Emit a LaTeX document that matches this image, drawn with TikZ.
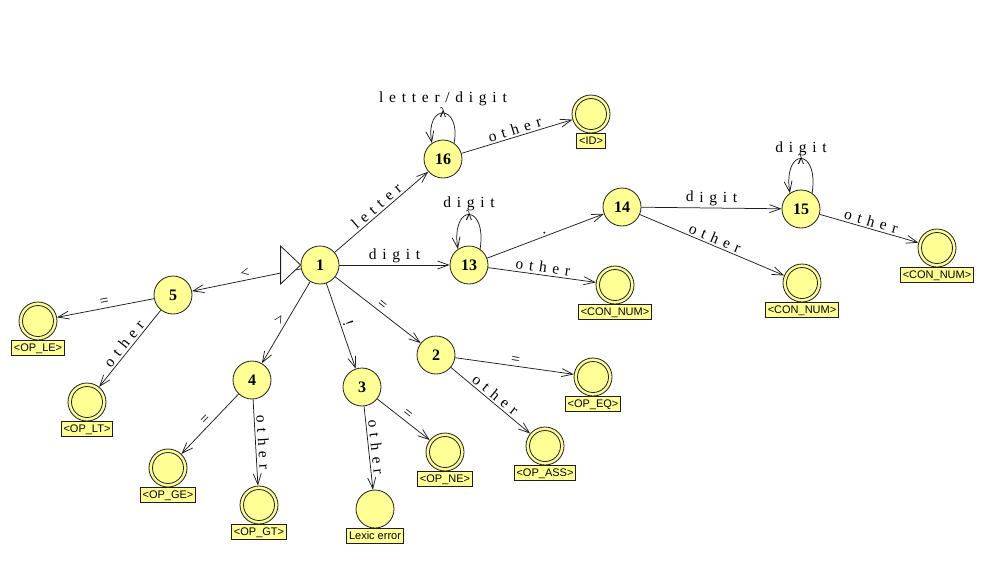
\documentclass[tikz,border=0pt]{standalone}
\usepackage{fontspec}
\setmainfont{Liberation Serif}
\newfontfamily\boxfont{Liberation Sans}
\newfontfamily\labfont[LetterSpace=37]{Liberation Serif}
\usetikzlibrary{arrows.meta}
\definecolor{fy}{RGB}{255,255,150}
\definecolor{ln}{RGB}{30,30,30}
\begin{document}
\begin{tikzpicture}[x=1pt,y=-1pt,
  state/.style={circle,draw=ln,line width=0.8pt,fill=fy,minimum size=38pt,inner sep=0pt,
    font=\fontsize{16}{16}\selectfont\bfseries},
  final/.style={state,path picture={\draw[ln,line width=0.8pt] (path picture bounding box.center) circle (15.5pt);}},
  tag/.style={draw=ln,line width=0.6pt,fill=fy,anchor=north,font=\boxfont\fontsize{11}{11}\selectfont,
    inner xsep=2.3pt,inner ysep=2pt,text height=8.5pt,text depth=2.5pt},
  trans/.style={draw=ln,line width=0.75pt,-{Straight Barb[length=11pt,width=8pt]}},
  lab/.style={auto,sloped,inner sep=2pt,font=\labfont\fontsize{15.5}{15.5}\selectfont},
  looplab/.style={anchor=base,inner sep=0pt,font=\labfont\fontsize{15.5}{15.5}\selectfont},
  lam/.style={inner sep=0pt,font=\fontsize{14}{14}\selectfont}
]
\useasboundingbox (0,0) rectangle (991,579);

% states
\node[state] (n1) at (320,265) {1};
\node[state] (n16) at (443,159) {16};
\node[state] (n13) at (469,265) {13};
\node[state] (n14) at (622,207) {14};
\node[state] (n15) at (801,209) {15};
\node[state] (n5) at (173,295) {5};
\node[state] (n4) at (252,380) {4};
\node[state] (n3) at (362,387) {3};
\node[state] (n2) at (436,355) {2};
\node[state] (err) at (375,509) {};

% final states
\node[final] (fID) at (591,114) {};
\node[final] (fC13) at (615,285) {};
\node[final] (fC14) at (802,283) {};
\node[final] (fC15) at (937,248) {};
\node[final] (fLE) at (38,321) {};
\node[final] (fLT) at (87,402) {};
\node[final] (fGE) at (168,468) {};
\node[final] (fGT) at (259,505) {};
\node[final] (fNE) at (445,452) {};
\node[final] (fEQ) at (593,377) {};
\node[final] (fASS) at (545,446) {};

% tags
\node[tag] (tID) at (fID.south) {<ID>};
\node[tag] (tC13) at (fC13.south) {<CON\_NUM>};
\node[tag] (tC14) at (fC14.south) {<CON\_NUM>};
\node[tag] (tC15) at (fC15.south) {<CON\_NUM>};
\node[tag] (tLE) at (fLE.south) {<OP\_LE>};
\node[tag] (tLT) at (fLT.south) {<OP\_LT>};
\node[tag] (tGE) at (fGE.south) {<OP\_GE>};
\node[tag] (tGT) at (fGT.south) {<OP\_GT>};
\node[tag] (tNE) at (fNE.south) {<OP\_NE>};
\node[tag] (tEQ) at (fEQ.south) {<OP\_EQ>};
\node[tag] (tASS) at (fASS.south) {<OP\_ASS>};
\node[tag] (terr) at (err.south) {Lexic error};

% transitions
\draw[trans] (n1) -- node[lab] {letter} (n16);
\draw[trans] (n1) -- node[lab] {digit} (n13);
\draw[trans] (n16) -- node[lab] {other} (fID);
\draw[trans] (n13) -- node[lab] {.} (n14);
\draw[trans] (n13) -- node[lab] {other} (fC13);
\draw[trans] (n14) -- node[lab] {digit} (n15);
\draw[trans] (n14) -- node[lab] {other} (fC14);
\draw[trans] (n15) -- node[lab] {other} (fC15);
\draw[trans] (n1) -- node[lab] {<} (n5);
\draw[trans] (n5) -- node[lab] {=} (fLE);
\draw[trans] (n5) -- node[lab] {other} (fLT);
\draw[trans] (n1) -- node[lab] {>} (n4);
\draw[trans] (n4) -- node[lab] {=} (fGE);
\draw[trans] (n4) -- node[lab] {other} (fGT);
\draw[trans] (n1) -- node[lab] {!} (n3);
\draw[trans] (n3) -- node[lab] {other} (err);
\draw[trans] (n3) -- node[lab] {=} (fNE);
\draw[trans] (n1) -- node[lab] {=} (n2);
\draw[trans] (n2) -- node[lab] {=} (fEQ);
\draw[trans] (n2) -- node[lab] {other} (fASS);

% loops
\draw[trans] (n16.55) .. controls +(7,-40) and +(-7,-40) .. (n16.125);
\node[lam] (lam16) at ([yshift=46pt]n16.center) {λ};
\node[looplab] (l16) at ([yshift=57pt]n16.center) {letter/digit};
\draw[trans] (n13.55) .. controls +(7,-46) and +(-7,-46) .. (n13.125);
\node[lam] (lam13) at ([yshift=49pt]n13.center) {λ};
\node[looplab] (l13) at ([yshift=58pt]n13.center) {digit};
\draw[trans] (n15.55) .. controls +(7,-46) and +(-7,-46) .. (n15.125);
\node[lam] (lam15) at ([yshift=49pt]n15.center) {λ};
\node[looplab] (l15) at ([yshift=57pt]n15.center) {digit};

% start marker
\draw[ln,line width=0.8pt,fill=white] (n1.west) -- ++(-20,-19) -- ++(0,38) -- cycle;
\end{tikzpicture}
\end{document}
